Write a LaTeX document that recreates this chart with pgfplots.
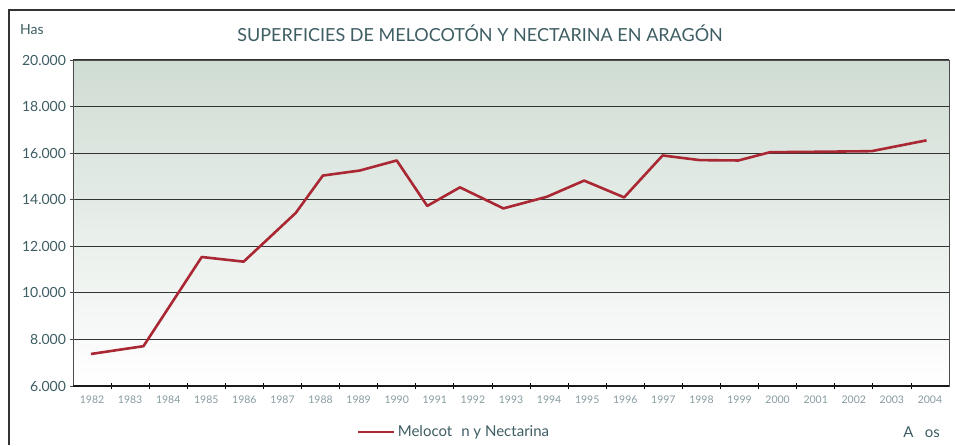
\documentclass[border=0pt]{standalone}
\usepackage{pgfplots}
\pgfplotsset{compat=1.18}
\usepackage{fontspec}
\setmainfont{Lato}
\definecolor{txt}{RGB}{62,94,100}
\definecolor{ticktxt}{RGB}{135,155,160}
\definecolor{ln}{RGB}{170,40,52}
\definecolor{bgtop}{RGB}{207,220,211}
\begin{document}
\begin{tikzpicture}
\useasboundingbox (0pt,0pt) rectangle (955pt,445pt);
\fill[white] (0pt,0pt) rectangle (955pt,445pt);
\draw[line width=1.6pt, black!80] (9pt,0pt) -- (9pt,435pt) -- (955pt,435pt);
\node[text=txt, font=\fontsize{14}{14}\selectfont, anchor=base west, inner sep=0] at (20pt,410pt) {Has};
\node[text=txt, font=\fontsize{18}{18}\selectfont, anchor=base, inner sep=0] at (480pt,403pt) {SUPERFICIES DE MELOCOTÓN Y NECTARINA EN ARAGÓN};
\node[text=txt, font=\fontsize{15}{15}\selectfont, anchor=base east, inner sep=0] at (940pt,8pt) {A\hspace{0.75em}os};
\begin{axis}[
  at={(73pt,59pt)}, anchor=south west,
  width=876pt, height=326pt, scale only axis,
  xmin=0, xmax=23, ymin=6000, ymax=20000,
  axis background/.style={top color=bgtop, bottom color=white},
  axis line style={black!70, line width=0.9pt},
  xtick={0.5,1.5,...,22.5},
  xticklabels={1982,1983,1984,1985,1986,1987,1988,1989,1990,1991,1992,1993,1994,1995,1996,1997,1998,1999,2000,2001,2002,2003,2004},
  major x tick style={draw=none},
  minor xtick={1,2,...,22},
  minor x tick style={black, line width=0.8pt},
  minor tick length=6pt,
  x tick label style={text=ticktxt, font=\fontsize{10.5}{10.5}\selectfont, yshift=-4pt},
  xtick pos=bottom, tick align=center,
  ytick={6000,8000,...,20000},
  scaled y ticks=false,
  /pgf/number format/fixed,
  /pgf/number format/1000 sep={.},
  /pgf/number format/assume math mode=true,
  ymajorgrids, major grid style={black!80, line width=1pt},
  ytick pos=left,
  major y tick style={black!70, line width=0.8pt},
  major tick length=5pt,
  y tick label style={text=txt, font=\fontsize{14}{14}\selectfont, xshift=-1pt},
  clip=false,
  legend style={at={(0.324,-0.141)}, anchor=west, draw=none, fill=none,
    inner sep=0pt, font=\fontsize{15}{15}\selectfont, text=txt,
    nodes={inner sep=2pt}},
  legend image code/.code={\draw[#1, line width=2.8pt] (0pt,0pt) -- (36pt,0pt);},
]
\addplot[ln, line width=2.6pt, line join=round] coordinates {
(0.47,7375) (1.85,7710) (3.38,11540) (4.48,11340) (5.85,13435)
(6.56,15037) (7.53,15253) (8.50,15685) (9.30,13733) (10.16,14531)
(11.30,13627) (12.44,14125) (13.42,14820) (14.47,14100) (15.48,15900)
(16.46,15700) (17.47,15685) (18.30,16040) (19.61,16060) (20.97,16085)
(22.41,16550)};
\addlegendentry{Melocot\hspace{0.6em}n y Nectarina}
\draw[black!90, line width=2pt] (axis cs:0,6000) -- (axis cs:23,6000);
\end{axis}
\end{tikzpicture}
\end{document}
